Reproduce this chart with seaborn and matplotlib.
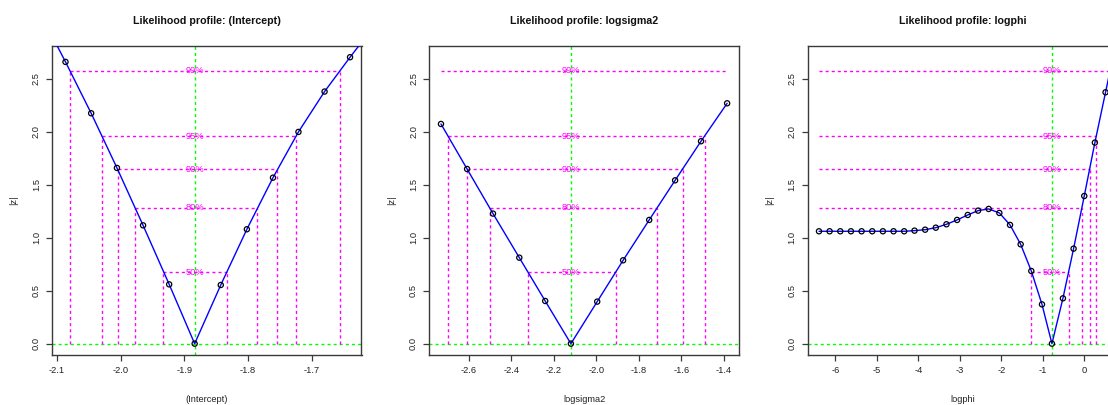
import numpy as np
import pandas as pd
import matplotlib
matplotlib.use("Agg")
import matplotlib.pyplot as plt
import seaborn as sns
from matplotlib.ticker import FormatStrFormatter

# ---------------- data ----------------
titles = ["Likelihood profile: (Intercept)", "Likelihood profile: logsigma2", "Likelihood profile: logphi"]
xlabels = ["(Intercept)", "logsigma2", "logphi"]

conf_labels = ["99%", "95%", "90%", "80%", "50%"]
conf_z = [2.576, 1.960, 1.645, 1.282, 0.674]

# profile points (first/last of panel 1 and last of panel 3 lie outside the visible range)
p1_x = [-2.1274, -2.0868, -2.0465, -2.0060, -1.9650, -1.9240, -1.8840, -1.8430, -1.8020, -1.7610, -1.7210, -1.6800, -1.6400, -1.5994]
p1_z = [3.13, 2.660, 2.175, 1.659, 1.117, 0.560, 0.000, 0.554, 1.080, 1.567, 1.999, 2.380, 2.704, 3.02]

p2_x = [-2.732, -2.609, -2.487, -2.363, -2.241, -2.120, -1.996, -1.874, -1.751, -1.629, -1.507, -1.384]
p2_z = [2.074, 1.649, 1.228, 0.812, 0.403, 0.000, 0.397, 0.787, 1.168, 1.542, 1.911, 2.269]

p3_x = [-6.393, -6.137, -5.880, -5.623, -5.366, -5.110, -4.853, -4.596, -4.340, -4.091, -3.835, -3.578,
        -3.321, -3.065, -2.808, -2.559, -2.303, -2.046, -1.789, -1.533, -1.276, -1.019, -0.779, -0.514,
        -0.257, 0.000, 0.256, 0.513, 0.770]
p3_z = [1.061, 1.061, 1.061, 1.061, 1.061, 1.061, 1.061, 1.061, 1.061, 1.067, 1.076, 1.095,
        1.127, 1.168, 1.215, 1.256, 1.272, 1.234, 1.121, 0.938, 0.686, 0.371, 0.000, 0.428,
        0.897, 1.394, 1.898, 2.373, 2.85]

# confidence bounds (NaN = not reached)
p1_lo = [-2.0795, -2.0291, -2.0049, -1.9772, -1.9331]
p1_hi = [-1.6564, -1.7252, -1.7551, -1.7866, -1.8332]
p2_lo = [np.nan, -2.697, -2.608, -2.501, -2.322]
p2_hi = [np.nan, -1.489, -1.594, -1.714, -1.907]
p3_lo = [np.nan, np.nan, np.nan, np.nan, -1.276]
p3_hi = [0.623, 0.289, 0.128, -0.065, -0.378]

p1_ticks = [-2.1, -2.0, -1.9, -1.8, -1.7]
p2_ticks = [-2.6, -2.4, -2.2, -2.0, -1.8, -1.6, -1.4]
p3_ticks = [-6, -5, -4, -3, -2, -1, 0]
y_ticks = [0.0, 0.5, 1.0, 1.5, 2.0, 2.5]

# ---------------- style ----------------
sns.set_theme(style="white")
plt.rcParams["font.family"] = ["Liberation Sans", "DejaVu Sans"]
plt.rcParams["axes.unicode_minus"] = True

W, H = 1108, 405
fig = plt.figure(figsize=(W / 100, H / 100), dpi=100)

panels = [
    dict(x=p1_x, z=p1_z, lo=p1_lo, hi=p1_hi, ticks=p1_ticks, xlim=(-2.108, -1.622), fmt="%.1f", left=52.0),
    dict(x=p2_x, z=p2_z, lo=p2_lo, hi=p2_hi, ticks=p2_ticks, xlim=(-2.787, -1.329), fmt="%.1f", left=429.3),
    dict(x=p3_x, z=p3_z, lo=p3_lo, hi=p3_hi, ticks=p3_ticks, xlim=(-6.665, 0.794), fmt="%d", left=807.7),
]

ax_w_px, ax_top, ax_bot = 309.5, 46.0, 355.0
ax_h_px = ax_bot - ax_top
ylim = (-0.107, 2.81)

MAG = "#FF00FF"
GRN = "#00FF00"
BLU = "#0000FF"
dash = (0, (2.2, 2.2))
frame_col = "#3a3a3a"
fs = 6.7

for i, p in enumerate(panels):
    ax = fig.add_axes([p["left"] / W, 1 - ax_bot / H, ax_w_px / W, ax_h_px / H])
    df = pd.DataFrame({"x": p["x"], "z": p["z"]})
    xv = np.array(p["x"])
    zv = np.array(p["z"])
    vis = (zv <= ylim[1])
    xmin_vis, xmax_vis = xv[vis].min(), xv[vis].max()
    mle = xv[np.argmin(zv)]

    ax.axvline(mle, color=GRN, ls=dash, lw=1.0, zorder=1)
    ax.axhline(0, color=GRN, ls=dash, lw=1.0, zorder=1)

    for lab, zc, lo, hi in zip(conf_labels, conf_z, p["lo"], p["hi"]):
        l = lo if not np.isnan(lo) else xmin_vis
        h = hi if not np.isnan(hi) else xmax_vis
        ax.plot([l, h], [zc, zc], color=MAG, ls=dash, lw=1.0, zorder=2)
        if not np.isnan(lo):
            ax.plot([lo, lo], [0, zc], color=MAG, ls=dash, lw=1.0, zorder=2)
        if not np.isnan(hi):
            ax.plot([hi, hi], [0, zc], color=MAG, ls=dash, lw=1.0, zorder=2)
        ax.text(mle, zc, lab, color=MAG, fontsize=fs, ha="center", va="center", zorder=2.5)

    sns.lineplot(data=df, x="x", y="z", sort=False, color=BLU, lw=1.0, ax=ax, zorder=3)
    sns.scatterplot(data=df, x="x", y="z", marker="o", s=14, facecolor="none",
                    edgecolor="black", linewidth=0.9, ax=ax, zorder=4)

    ax.set_xlim(*p["xlim"])
    ax.set_ylim(*ylim)
    ax.set_xticks(p["ticks"])
    ax.set_yticks(y_ticks)
    ax.xaxis.set_major_formatter(FormatStrFormatter(p["fmt"]))
    ax.yaxis.set_major_formatter(FormatStrFormatter("%.1f"))
    ax.tick_params(axis="both", which="major", direction="out", length=4.3, width=0.9,
                   color=frame_col, labelsize=fs, labelcolor="#222222", pad=3.8,
                   bottom=True, left=True)
    for lbl in ax.get_yticklabels():
        lbl.set_rotation(90)
        lbl.set_va("center")
    for s in ax.spines.values():
        s.set_visible(True)
        s.set_color(frame_col)
        s.set_linewidth(1.0)

    ax.set_xlabel(xlabels[i], fontsize=fs, color="#222222")
    ax.xaxis.label.set_va("center")
    ax.xaxis.set_label_coords(0.5, -(399 - ax_bot) / ax_h_px)
    ax.set_ylabel("|z|", fontsize=fs, color="#222222")
    ax.yaxis.label.set_va("center")
    ax.yaxis.label.set_ha("center")
    ax.yaxis.set_label_coords(-38 / ax_w_px, 0.5)

    ax.text(0.5, 1 + (ax_top - 21) / ax_h_px, titles[i], transform=ax.transAxes,
            ha="center", va="center", fontsize=7.7, fontweight="bold", color="#111111")

fig.savefig("out.png", dpi=100)
